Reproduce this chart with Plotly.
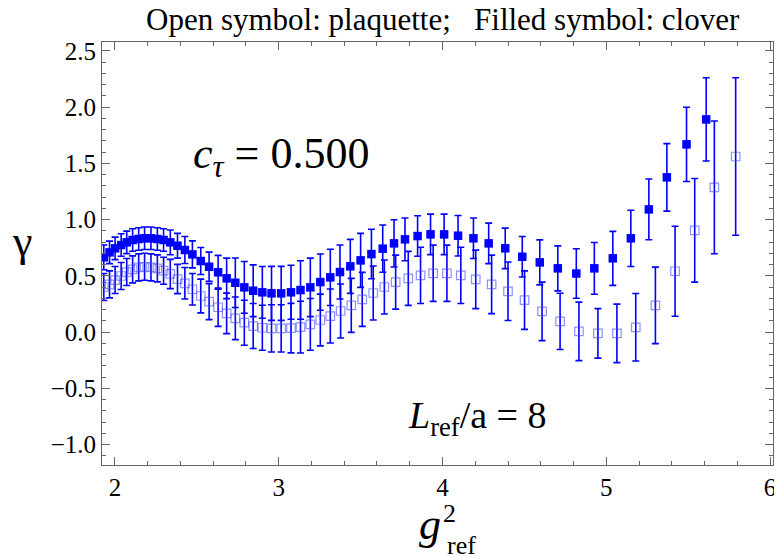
import plotly.graph_objects as go

# ---------------- data ----------------
g2_clover = [1.932, 1.967, 2.001, 2.038, 2.072, 2.108, 2.145, 2.181, 2.220, 2.259,
             2.297, 2.338, 2.382, 2.427, 2.473, 2.524, 2.575, 2.630, 2.682, 2.735,
             2.790, 2.844, 2.900, 2.956, 3.015, 3.075, 3.133, 3.193, 3.254, 3.315,
             3.374, 3.437, 3.500, 3.566, 3.635, 3.704, 3.771, 3.848, 3.927, 4.010,
             4.095, 4.189, 4.282, 4.383, 4.487, 4.594, 4.704, 4.817, 4.927, 5.040,
             5.150, 5.260, 5.370, 5.490, 5.610]
gamma_clover = [0.664, 0.708, 0.744, 0.773, 0.797, 0.818, 0.827, 0.833, 0.833, 0.827,
                0.818, 0.797, 0.767, 0.729, 0.690, 0.631, 0.580, 0.531, 0.477, 0.438,
                0.397, 0.367, 0.353, 0.344, 0.344, 0.353, 0.373, 0.397, 0.444, 0.486,
                0.533, 0.584, 0.637, 0.693, 0.741, 0.788, 0.824, 0.853, 0.868, 0.868,
                0.856, 0.833, 0.788, 0.744, 0.669, 0.619, 0.566, 0.520, 0.566, 0.655,
                0.833, 1.090, 1.375, 1.668, 1.890]
err_clover = [0.11, 0.10, 0.10, 0.10, 0.10, 0.10, 0.10, 0.10, 0.10, 0.10,
              0.10, 0.11, 0.11, 0.12, 0.12, 0.12, 0.13, 0.15, 0.18, 0.22,
              0.23, 0.23, 0.23, 0.24, 0.24, 0.24, 0.26, 0.26, 0.25, 0.25,
              0.24, 0.24, 0.24, 0.22, 0.21, 0.21, 0.19, 0.18, 0.18, 0.18,
              0.18, 0.18, 0.18, 0.18, 0.18, 0.20, 0.20, 0.22, 0.23, 0.24,
              0.25, 0.27, 0.30, 0.33, 0.37]

g2_plaq = [1.932, 1.967, 2.001, 2.038, 2.072, 2.108, 2.145, 2.181, 2.220, 2.259,
           2.297, 2.338, 2.382, 2.427, 2.473, 2.524, 2.575, 2.630, 2.682, 2.735,
           2.790, 2.844, 2.900, 2.956, 3.015, 3.075, 3.133, 3.193, 3.254, 3.315,
           3.378, 3.443, 3.510, 3.577, 3.645, 3.714, 3.791, 3.866, 3.943, 4.027,
           4.112, 4.203, 4.300, 4.400, 4.501, 4.608, 4.718, 4.833, 4.949, 5.065,
           5.180, 5.300, 5.420, 5.540, 5.660, 5.790]
gamma_plaq = [0.400, 0.424, 0.462, 0.498, 0.533, 0.557, 0.575, 0.580, 0.575, 0.566,
              0.545, 0.516, 0.471, 0.433, 0.380, 0.320, 0.270, 0.220, 0.166, 0.122,
              0.083, 0.053, 0.038, 0.033, 0.033, 0.035, 0.044, 0.068, 0.107, 0.142,
              0.187, 0.237, 0.290, 0.347, 0.400, 0.444, 0.477, 0.504, 0.522, 0.522,
              0.504, 0.468, 0.424, 0.362, 0.284, 0.184, 0.095, 0.006, -0.012, -0.012,
              0.042, 0.237, 0.540, 0.904, 1.286, 1.560]
err_plaq = [0.12, 0.12, 0.12, 0.12, 0.12, 0.12, 0.12, 0.12, 0.12, 0.12,
            0.12, 0.13, 0.13, 0.14, 0.14, 0.15, 0.16, 0.17, 0.18, 0.19,
            0.20, 0.20, 0.20, 0.21, 0.21, 0.22, 0.23, 0.23, 0.23, 0.24,
            0.24, 0.24, 0.24, 0.24, 0.24, 0.24, 0.24, 0.25, 0.25, 0.25,
            0.25, 0.26, 0.26, 0.26, 0.26, 0.26, 0.25, 0.26, 0.22, 0.26,
            0.30, 0.34, 0.40, 0.46, 0.59, 0.70]

x_ticks = [2, 3, 4, 5, 6]
y_ticks = [-1.0, -0.5, 0.0, 0.5, 1.0, 1.5, 2.0, 2.5]

# ---------------- figure ----------------
# The page body has an 8px default margin, so the figure is made 8px
# smaller and the margins shifted to land the frame where the reference has it.
BODY = 8
W, H = 782 - BODY, 557 - BODY
L, R, T, B = 102 - BODY, 6, 42 - BODY, 92
PL, PT = L + BODY, T + BODY            # frame left/top on the page
PW, PH = W - L - R, H - T - B          # frame size
FONT = "Liberation Serif"
BLUE = "#0000ff"
TICKSIZE = 25


def px(xp):
    return (xp - PL) / PW


def py(yp):
    return (PT + PH - yp) / PH


fig = go.Figure()

fig.add_trace(go.Scatter(
    x=g2_plaq, y=gamma_plaq, mode="markers", name="plaquette",
    marker=dict(symbol="square-open", size=8.5, color="rgba(70,70,255,0.6)",
                line=dict(width=1.2, color="rgba(70,70,255,0.6)")),
    error_y=dict(type="data", array=err_plaq, color=BLUE, thickness=1.6, width=3.5),
))
fig.add_trace(go.Scatter(
    x=g2_clover, y=gamma_clover, mode="markers", name="clover",
    marker=dict(symbol="square", size=8.5, color=BLUE, line=dict(width=0)),
    error_y=dict(type="data", array=err_clover, color=BLUE, thickness=1.6, width=3.5),
))

axis_common = dict(
    showline=True, linecolor="#666666", linewidth=1, mirror="allticks",
    ticks="inside", ticklen=8, tickwidth=1, tickcolor="#666666",
    showgrid=False, zeroline=False,
    tickfont=dict(family=FONT, size=TICKSIZE, color="black"),
)

fig.update_xaxes(range=[1.921, 6.018], tickvals=x_ticks,
                 ticktext=[str(v) for v in x_ticks],
                 ticklabeloverflow="allow",
                 minor=dict(dtick=0.2, tick0=0, ticks="inside", ticklen=4,
                            tickcolor="#666666"),
                 **axis_common)
fig.update_yaxes(range=[-1.182, 2.578], tickvals=y_ticks,
                 ticktext=[("\u2212" if v < 0 else "") + f"{abs(v):.1f}" for v in y_ticks],
                 minor=dict(dtick=0.1, tick0=0, ticks="inside", ticklen=4,
                            tickcolor="#666666"),
                 **axis_common)

ann = [
    dict(text="Open symbol: plaquette;   Filled symbol: clover",
         x=px(445), y=py(19), size=31),
    dict(text="<i>c</i><sub><i>τ</i></sub> = 0.500", x=px(282), y=py(157), size=44),
    dict(text="<i>L</i><sub>ref</sub>/a = 8", x=px(479), y=py(418), size=38),
    dict(text="γ", x=px(22), y=py(241), size=44),
    dict(text="<i>g</i>", x=px(431), y=py(524), size=44),
    dict(text="2", x=px(451), y=py(513), size=26),
    dict(text="ref", x=px(463), y=py(545), size=26),
]
for a in ann:
    fig.add_annotation(text=a["text"], x=a["x"], y=a["y"], xref="paper", yref="paper",
                       showarrow=False, xanchor="center", yanchor="middle",
                       font=dict(family=FONT, size=a["size"], color="black"))

fig.update_layout(
    width=W, height=H, showlegend=False,
    margin=dict(l=L, r=R, t=T, b=B, pad=0),
    paper_bgcolor="white", plot_bgcolor="white",
)

fig.write_html("out.html")
